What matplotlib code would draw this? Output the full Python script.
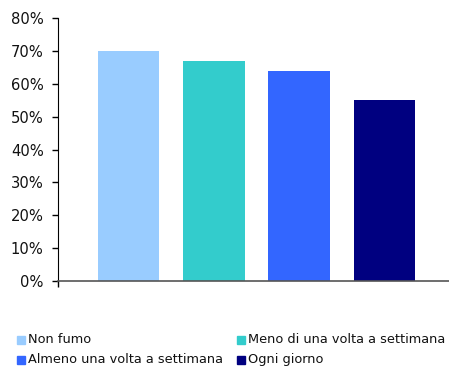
import matplotlib
matplotlib.use("Agg")
import matplotlib.pyplot as plt
from matplotlib.patches import Rectangle
from matplotlib.ticker import PercentFormatter

categories = ["Non fumo", "Meno di una volta a settimana",
              "Almeno una volta a settimana", "Ogni giorno"]
values = [70, 67, 64, 55]
colors = ["#99CCFF", "#33CCCC", "#3366FF", "#000080"]
yticks = [0, 10, 20, 30, 40, 50, 60, 70, 80]

plt.rcParams["font.family"] = ["DejaVu Sans"]

W, H = 449, 367
fig = plt.figure(figsize=(W / 100, H / 100), dpi=100)
ax = fig.add_axes([58 / W, 1 - 281 / H, 1 - 58 / W, (281 - 18) / H])

x = list(range(len(categories)))
ax.bar(x, values, width=0.72, color=colors, zorder=2)

ax.set_ylim(0, 80)
ax.set_xlim(-0.83, 3.76)
ax.set_yticks(yticks)
ax.yaxis.set_major_formatter(PercentFormatter(decimals=0))
ax.tick_params(axis="y", direction="out", length=4.3, width=1, labelsize=10.6,
               pad=6, colors="black", labelcolor="#111111")
ax.set_xticks([-0.83])
ax.set_xticklabels([""])
ax.tick_params(axis="x", direction="out", length=4.5, width=1, color="black")

for side in ("top", "right"):
    ax.spines[side].set_visible(False)
ax.spines["left"].set_color("black")
ax.spines["bottom"].set_color("#555555")
ax.spines["bottom"].set_linewidth(1.2)

# Legend laid out in two rows of two entries
entries = [(0, 0), (1, 1), (2, 0), (3, 1)]  # (series index, column)
col_x = [17, 237]
row_y = [344, 364]
for k, (i, col) in enumerate(entries):
    row = k // 2
    x0 = col_x[col]
    yb = row_y[row]
    fig.add_artist(Rectangle((x0 / W, 1 - yb / H), 8 / W, 8 / H,
                             transform=fig.transFigure, color=colors[i]))
    fig.text((x0 + 11) / W, 1 - (yb - 1) / H, categories[i], fontsize=9.3,
             va="baseline", ha="left", color="#111111")

fig.savefig("out.png", dpi=100)
